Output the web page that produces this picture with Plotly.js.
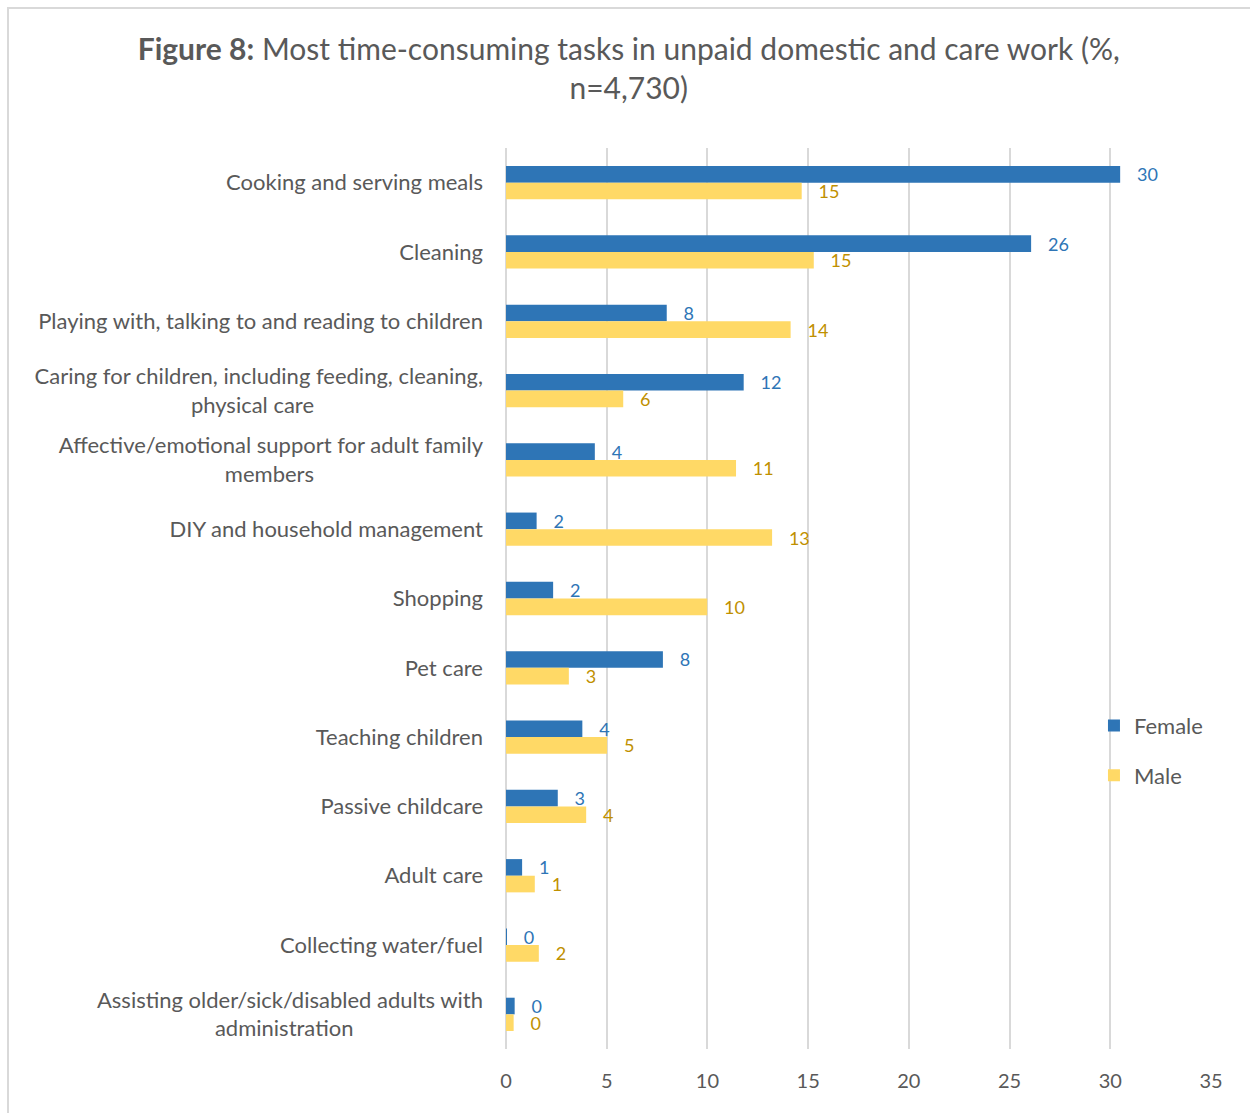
<!DOCTYPE html>
<html>
<head>
<meta charset="utf-8">
<script src="https://cdn.plot.ly/plotly-3.0.1.min.js"></script>
<style>
  html, body { margin: 0; padding: 0; background: #fff; }
  #chart { width: 1250px; height: 1113px; position: absolute; left: 0; top: 0; }
  #frame { position: absolute; left: 7px; top: 7px; width: 1260px; height: 1120px; border: 2px solid #d9d9d9; pointer-events: none; }
</style>
</head>
<body>
<div id="chart"></div>
<div id="frame"></div>
<script>
const NB = n => "\u00a0".repeat(n);
const categories = [
  "Cooking and serving meals",
  "Cleaning",
  "Playing with, talking to and reading to children",
  "Caring for children, including feeding, cleaning,<br>physical care" + NB(30),
  "Affective/emotional support for adult family<br>members" + NB(30),
  "DIY and household management",
  "Shopping",
  "Pet care",
  "Teaching children",
  "Passive childcare",
  "Adult care",
  "Collecting water/fuel",
  "Assisting older/sick/disabled adults with<br>administration" + NB(23)
];
const femaleValues = [30.49, 26.07, 7.98, 11.8, 4.41, 1.52, 2.34, 7.79, 3.79, 2.57, 0.8, 0.05, 0.43];
const maleValues   = [14.68, 15.28, 14.13, 5.82, 11.42, 13.21, 9.99, 3.12, 5.02, 3.98, 1.43, 1.63, 0.38];
const xTicks = [0, 5, 10, 15, 20, 25, 30, 35];

const FONT = "Lato, 'Open Sans', sans-serif";
const GREY = "#595959";
const pad = "\u00a0\u00a0\u00a0";

const traces = [
  {
    type: "bar", orientation: "h", name: "Female", legendgroup: "f",
    y: categories, x: femaleValues,
    marker: { color: "#2E75B6" },
    texttemplate: pad + "%{x:.0f}", textposition: "outside", constraintext: "none",
    cliponaxis: false,
    textfont: { family: FONT, size: 18, color: "#2E75B6" },
    hoverinfo: "x+y"
  },
  {
    type: "bar", orientation: "h", name: "Male", legendgroup: "m",
    y: categories, x: maleValues,
    marker: { color: "#FFD966" },
    texttemplate: pad + "%{x:.0f}", textposition: "outside", constraintext: "none",
    cliponaxis: false,
    textfont: { family: FONT, size: 18, color: "#BF9000" },
    hoverinfo: "x+y"
  }
];

const layout = {
  width: 1250, height: 1113,
  paper_bgcolor: "#fff", plot_bgcolor: "#fff",
  margin: { l: 506, r: 39, t: 148, b: 64 },
  font: { family: FONT, color: GREY, size: 20 },
  title: {
    text: "<b>Figure 8:</b> Most time-consuming tasks in unpaid domestic and care work (%,<br>n=4,730)",
    font: { family: FONT, size: 30, color: GREY },
    x: 0.503, xanchor: "center", xref: "container",
    y: 0.946, yanchor: "middle", yref: "container"
  },
  barmode: "group",
  bargap: 0.52,
  bargroupgap: 0,
  xaxis: {
    range: [0, 35], tickvals: xTicks, ticktext: xTicks.map(String),
    showgrid: true, gridcolor: "#d9d9d9", gridwidth: 2,
    zeroline: true, zerolinecolor: "#d9d9d9", zerolinewidth: 2,
    showline: false, ticks: "", ticklabelstandoff: 18,
    tickfont: { family: FONT, size: 20, color: GREY },
    fixedrange: true
  },
  yaxis: {
    type: "category", autorange: "reversed",
    showgrid: false, zeroline: false, showline: false, ticks: "",
    ticklabelstandoff: 22,
    tickfont: { family: FONT, size: 22, color: GREY },
    fixedrange: true
  },
  showlegend: true,
  legend: {
    x: 0.834, xanchor: "left", y: 0.382, yanchor: "top",
    bgcolor: "rgba(0,0,0,0)",
    traceorder: "grouped", tracegroupgap: 18,
    itemwidth: 30,
    font: { family: FONT, size: 22, color: GREY }
  }
};

Plotly.newPlot("chart", traces, layout, { displayModeBar: false, staticPlot: true });
</script>
</body>
</html>
